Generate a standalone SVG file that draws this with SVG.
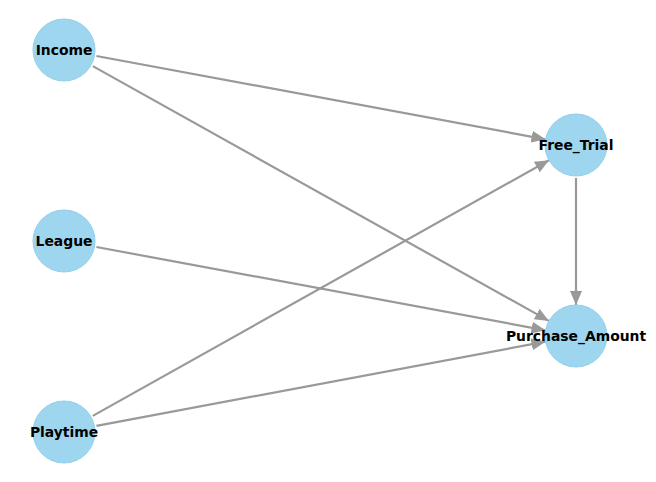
<svg xmlns="http://www.w3.org/2000/svg" width="656" height="482" viewBox="0 0 656 482">
<defs>
<style>
.edge{stroke:#999999;stroke-width:2.2;fill:none;marker-end:url(#ah)}
.node circle{fill:#9fd6ef;stroke:#92cfeb;stroke-width:1}
.node text{font-family:"DejaVu Sans",sans-serif;font-weight:bold;font-size:13.9px;text-anchor:middle;dominant-baseline:central;fill:#000}
</style>
<marker id="ah" viewBox="0 0 14 12" refX="14" refY="6" markerWidth="14" markerHeight="12" markerUnits="userSpaceOnUse" orient="auto">
<path d="M0,0 L14,6 L0,12 Z" fill="#999999"/>
</marker>
</defs>
<rect width="656" height="482" fill="#ffffff"/>
<g id="edges">
<line class="edge" x1="96.4" y1="56.0" x2="545.5" y2="139.3"/>
<line class="edge" x1="92.8" y1="66.1" x2="548.9" y2="320.9"/>
<line class="edge" x1="96.4" y1="247.0" x2="545.5" y2="330.3"/>
<line class="edge" x1="92.8" y1="415.9" x2="549.0" y2="160.2"/>
<line class="edge" x1="96.4" y1="425.9" x2="545.5" y2="341.7"/>
<line class="edge" x1="576" y1="178" x2="576" y2="305"/>
</g>
<g id="node-income" class="node"><circle cx="64" cy="50" r="31"/><text x="64" y="50">Income</text></g>
<g id="node-league" class="node"><circle cx="64" cy="241" r="31"/><text x="64" y="241">League</text></g>
<g id="node-playtime" class="node"><circle cx="64" cy="432" r="31"/><text x="64" y="432">Playtime</text></g>
<g id="node-free-trial" class="node"><circle cx="576" cy="145" r="31"/><text x="576" y="145">Free_Trial</text></g>
<g id="node-purchase-amount" class="node"><circle cx="576" cy="336" r="31"/><text x="576" y="336">Purchase_Amount</text></g>
</svg>
